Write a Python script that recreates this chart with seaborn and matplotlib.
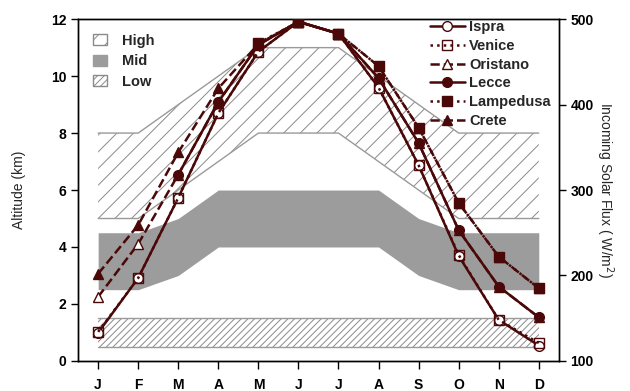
import numpy as np
import pandas as pd
import matplotlib
matplotlib.use("Agg")
import matplotlib.pyplot as plt
import seaborn as sns
from matplotlib.lines import Line2D
from matplotlib.patches import Patch

# ---- data ----
months = ["J", "F", "M", "A", "M", "J", "J", "A", "S", "O", "N", "D"]
month_idx = list(range(1, 13))

# cloud layer bands (altitude, km)
high_bottom = [5, 5, 6, 7, 8, 8, 8, 7, 6, 5, 5, 5]
high_top = [8, 8, 9, 10, 11, 11, 11, 10, 9, 8, 8, 8]
mid_bottom = [2.5, 2.5, 3, 4, 4, 4, 4, 4, 3, 2.5, 2.5, 2.5]
mid_top = [4.5, 4.5, 5, 6, 6, 6, 6, 6, 5, 4.5, 4.5, 4.5]
low_bottom = [0.5] * 12
low_top = [1.5] * 12

# incoming solar flux (W/m2)
nan = np.nan
ispra = [133, 197, 291, 390, 462, 497, 483, 420, 329, 223, 148, 118]
venice = [134, 197, 291, 390, 462, 497, 483, 420, 329, 224, 148, 121]
oristano = [175, 237, 318, 403, 470, 497, 483, 431, 355, 253, 187, 151]
lecce = [nan, nan, 318, 403, 470, 497, 483, 431, 355, 253, 187, 151]
lampedusa = [nan, nan, nan, nan, 472, 497, 483, 445, 373, 285, 222, 185]
crete = [202, 259, 344, 419, 471, 497, 483, 445, 373, 285, 222, 185]

series_names = ["Ispra", "Venice", "Oristano", "Lecce", "Lampedusa", "Crete"]
series_vals = [ispra, venice, oristano, lecce, lampedusa, crete]

# ---- style ----
sns.set_theme(style="ticks")
plt.rcParams["font.family"] = ["Liberation Sans", "DejaVu Sans"]
plt.rcParams["hatch.linewidth"] = 0.7
plt.rcParams["hatch.color"] = "#888888"

dark = "#4a0808"
band_edge = "#9a9a9a"
mid_color = "#9c9c9c"

fig = plt.figure(figsize=(6.3, 3.91), dpi=100)
ax = fig.add_axes([0.124, 0.077, 0.763, 0.874])
ax2 = ax.twinx()

# bands
ax.fill_between(month_idx, high_bottom, high_top, facecolor="white",
                edgecolor="#8a8a8a", hatch="//", linewidth=0, zorder=1)
ax.plot(month_idx, high_bottom, color=band_edge, lw=1, zorder=2)
ax.plot(month_idx, high_top, color=band_edge, lw=1, zorder=2)
ax.fill_between(month_idx, mid_bottom, mid_top, facecolor=mid_color,
                edgecolor=mid_color, linewidth=0, zorder=1)
ax.fill_between(month_idx, low_bottom, low_top, facecolor="white",
                edgecolor="#8a8a8a", hatch="/////", linewidth=0, zorder=1)
ax.plot(month_idx, low_bottom, color=band_edge, lw=1, zorder=2)
ax.plot(month_idx, low_top, color=band_edge, lw=1, zorder=2)

styles = {
    "Ispra": dict(linestyle="-", marker="o", mfc="white"),
    "Venice": dict(linestyle=":", marker="s", mfc="none"),
    "Oristano": dict(linestyle="--", marker="^", mfc="white"),
    "Lecce": dict(linestyle="-", marker="o", mfc=dark),
    "Lampedusa": dict(linestyle=":", marker="s", mfc=dark),
    "Crete": dict(linestyle="--", marker="^", mfc=dark),
}
zorders = {"Ispra": 3, "Venice": 4, "Oristano": 3, "Lecce": 5, "Lampedusa": 7, "Crete": 6}

handles = []
for name, vals in zip(series_names, series_vals):
    df = pd.DataFrame({"month": month_idx, "flux": vals}).dropna()
    st = styles[name]
    sns.lineplot(data=df, x="month", y="flux", ax=ax2, color=dark,
                 linestyle=st["linestyle"], marker=st["marker"],
                 markerfacecolor=st["mfc"], markeredgecolor=dark,
                 markeredgewidth=1.0, markersize=7, linewidth=1.8,
                 zorder=zorders[name], legend=False)
    handles.append(Line2D([], [], color=dark, linestyle=st["linestyle"],
                          marker=st["marker"], markerfacecolor=st["mfc"],
                          markeredgecolor=dark, markersize=7, linewidth=1.8,
                          label=name))

ax.set_xlim(0.5, 12.5)
ax.set_ylim(0, 12)
ax2.set_ylim(100, 500)
ax.set_xticks(month_idx)
ax.set_xticklabels(months)
ax.set_yticks(range(0, 13, 2))
ax2.set_yticks([100, 200, 300, 400, 500])

for a in (ax, ax2):
    for sp in a.spines.values():
        sp.set_color("black")
        sp.set_linewidth(1.0)
    a.tick_params(direction="out", length=5, width=1, colors="black",
                  labelsize=10)
    for lab in a.get_xticklabels() + a.get_yticklabels():
        lab.set_fontweight("bold")
ax.tick_params(axis="x", length=6, pad=6)
ax.set_xlabel("")
ax2.set_xlabel("")
ax.set_ylabel("Altitude (km)", fontsize=10, labelpad=18)
ax2.set_ylabel("Incoming Solar Flux ( W/m$^2$)", fontsize=10,
               rotation=270, labelpad=16)

# legends
leg1 = ax2.legend(handles=handles, loc="upper right", frameon=False,
                  prop=dict(weight="bold", size=10.5), handlelength=2.4,
                  handletextpad=0.3, labelspacing=0.32,
                  bbox_to_anchor=(1.0, 1.02), borderaxespad=0.15)
band_handles = [
    Patch(facecolor="white", edgecolor="#8a8a8a", hatch="//", label="High"),
    Patch(facecolor=mid_color, edgecolor=mid_color, label="Mid"),
    Patch(facecolor="white", edgecolor="#8a8a8a", hatch="/////", label="Low"),
]
leg2 = ax2.legend(handles=band_handles, loc="upper left", frameon=False,
                  prop=dict(weight="bold", size=10.5), handlelength=1.0,
                  handleheight=0.75, handletextpad=1.0, labelspacing=0.45,
                  bbox_to_anchor=(0.0, 1.0), borderaxespad=0.6)
ax2.add_artist(leg1)

fig.savefig("out.png", dpi=100)
